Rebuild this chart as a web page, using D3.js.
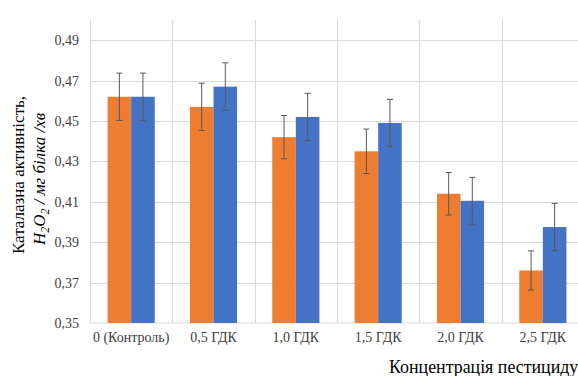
<!DOCTYPE html>
<html>
<head>
<meta charset="utf-8">
<script src="https://cdn.jsdelivr.net/npm/d3@7"></script>
<style>
  body { margin: 0; background: #fff; overflow: hidden; }
</style>
</head>
<body>
<script>
// catalase activity vs pesticide concentration

var categories = ["0 (Контроль)", "0,5 ГДК", "1,0 ГДК", "1,5 ГДК", "2,0 ГДК", "2,5 ГДК"];
var seriesNames = ["orange", "blue"];
var orangeValues = [0.462, 0.457, 0.442, 0.435, 0.414, 0.376];
var orangeErrors = [0.0117, 0.0117, 0.0107, 0.011, 0.0105, 0.0097];
var blueValues = [0.462, 0.467, 0.452, 0.449, 0.4105, 0.3975];
var blueErrors = [0.0117, 0.0118, 0.0117, 0.0117, 0.0116, 0.0117];
var yTicks = [0.35, 0.37, 0.39, 0.41, 0.43, 0.45, 0.47, 0.49];
var colors = {orange: "#ED7D31", blue: "#4472C4"};

var width = 578;
var height = 376;
var serif = "Liberation Serif";

var svg = d3.select("body").append("svg")
    .attr("width", width)
    .attr("height", height);

var plotLeft = 90, plotRight = 584, plotTop = 20, plotBottom = 323;

var x = d3.scaleBand().domain(categories).range([plotLeft, plotRight]).padding(0);
var x1 = d3.scaleBand().domain(seriesNames).range([17.6, x.bandwidth() - 17.6]).padding(0);
var y = d3.scaleLinear().domain([0.35, 0.50]).range([plotBottom, plotTop]);

// gridlines
svg.selectAll(".hgrid").data(yTicks.slice(1)).enter().append("line")
    .attr("x1", plotLeft).attr("x2", plotRight)
    .attr("y1", function(d){ return Math.round(y(d)) + 0.5; })
    .attr("y2", function(d){ return Math.round(y(d)) + 0.5; })
    .attr("stroke", "#d9d9d9").attr("stroke-width", 1);

svg.selectAll(".vgrid").data(categories).enter().append("line")
    .attr("x1", function(d){ return Math.round(x(d)) + 0.5; })
    .attr("x2", function(d){ return Math.round(x(d)) + 0.5; })
    .attr("y1", plotTop).attr("y2", plotBottom)
    .attr("stroke", "#d9d9d9").attr("stroke-width", 1);

// base line
svg.append("line")
    .attr("x1", plotLeft).attr("x2", plotRight)
    .attr("y1", y(0.35)).attr("y2", y(0.35))
    .attr("stroke", "#d9d9d9").attr("stroke-width", 1.2);

var data = [];
categories.forEach(function(c, i){
    data.push({cat: c, s: "orange", v: orangeValues[i], e: orangeErrors[i]});
    data.push({cat: c, s: "blue", v: blueValues[i], e: blueErrors[i]});
});

svg.selectAll(".bar").data(data).enter().append("rect")
    .attr("x", function(d){ return x(d.cat) + x1(d.s); })
    .attr("y", function(d){ return y(d.v); })
    .attr("width", x1.bandwidth())
    .attr("height", function(d){ return y(0.35) - y(d.v); })
    .attr("fill", function(d){ return colors[d.s]; });

// error bars
var cap = 3;
function cx(d){ return x(d.cat) + x1(d.s) + x1.bandwidth()/2; }
var eb = svg.selectAll(".err").data(data).enter().append("g")
    .attr("stroke", "#595959").attr("stroke-width", 1);
eb.append("line")
    .attr("x1", cx).attr("x2", cx)
    .attr("y1", function(d){ return y(d.v + d.e); })
    .attr("y2", function(d){ return y(d.v - d.e); });
eb.append("line")
    .attr("x1", function(d){ return cx(d) - cap; })
    .attr("x2", function(d){ return cx(d) + cap; })
    .attr("y1", function(d){ return y(d.v + d.e); })
    .attr("y2", function(d){ return y(d.v + d.e); });
eb.append("line")
    .attr("x1", function(d){ return cx(d) - cap; })
    .attr("x2", function(d){ return cx(d) + cap; })
    .attr("y1", function(d){ return y(d.v - d.e); })
    .attr("y2", function(d){ return y(d.v - d.e); });

// y axis
var yAxis = d3.axisLeft(y).tickValues(yTicks).tickSize(0).tickPadding(11)
    .tickFormat(function(d){ return d3.format(".2f")(d).replace(".", ","); });
var gy = svg.append("g").attr("transform", "translate(" + plotLeft + ",0)").call(yAxis);
gy.select(".domain").remove();
gy.selectAll("text").style("font-family", serif).style("font-size", "14px").attr("fill", "#404040");

// x axis
var xAxis = d3.axisBottom(x).tickSize(0).tickPadding(9);
var gx = svg.append("g").attr("transform", "translate(0," + plotBottom + ")").call(xAxis);
gx.select(".domain").remove();
gx.selectAll("text").style("font-family", serif).style("font-size", "14px").attr("fill", "#404040");

// axis titles
svg.append("text")
    .attr("transform", "translate(24,175) rotate(-90)")
    .attr("text-anchor", "middle")
    .style("font-family", serif)
    .style("font-size", "17px")
    .attr("fill", "#000")
    .text("Каталазна активність,");

var yt2 = svg.append("text")
    .attr("transform", "translate(45,179) rotate(-90)")
    .attr("text-anchor", "middle")
    .style("font-family", serif)
    .style("font-size", "17px")
    .style("font-style", "italic")
    .attr("fill", "#000");
yt2.append("tspan").text("H");
yt2.append("tspan").text("2").attr("dy", 4).style("font-size", "12px");
yt2.append("tspan").text("O").attr("dy", -4);
yt2.append("tspan").text("2").attr("dy", 4).style("font-size", "12px");
yt2.append("tspan").text(" / мг білка /хв").attr("dy", -4);

svg.append("text")
    .attr("x", 389).attr("y", 373)
    .style("font-family", serif)
    .style("font-size", "17.9px")
    .attr("fill", "#000")
    .text("Концентрація пестициду");
</script>
</body>
</html>
